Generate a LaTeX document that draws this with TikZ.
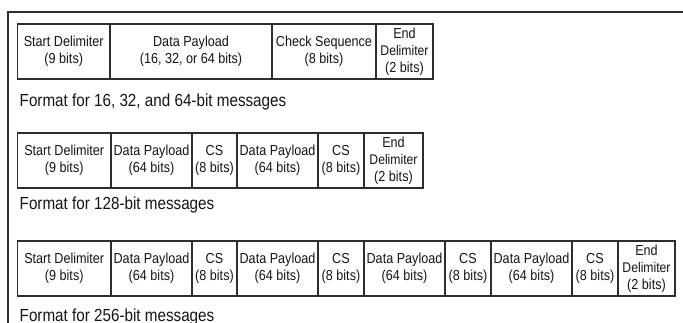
\documentclass[tikz,border=0pt]{standalone}
\usepackage{fontspec}
\setmainfont[FakeStretch=0.87]{Liberation Sans}
\usepackage{xcolor}
\usetikzlibrary{positioning}
\definecolor{framegray}{HTML}{2E2E2E}
\definecolor{textgray}{HTML}{151515}
\tikzset{
    field/.style={draw=framegray, line width=1.6pt, outer sep=0pt, inner sep=0pt, minimum height=55, align=center, text=textgray, font=\fontsize{14.5}{17}\selectfont},
    caption/.style={anchor=base west, inner sep=0pt, text=textgray, font=\fontsize{17.5}{20}\selectfont},
    frameline/.style={draw=framegray, line width=1.8pt}
}
\newcommand{\field}[4]{
    \node[field, minimum width=#3, right=0pt of #2] (#1) {#4};
}
\newcommand{\stopdelim}{End\\{\fontsize{14}{17}\selectfont Delimiter}\\(2 bits)}

\begin{document}
\begin{tikzpicture}[x=1pt, y=-1pt]
                    \useasboundingbox (0, 0) rectangle (683, 322);
                    \coordinate (frame-r) at (690, 12);
                    \coordinate (frame-c) at (8, 12);
                    \coordinate (frame-b) at (8, 330);
                    \draw[frameline] (frame-r) -- (frame-c) -- (frame-b);
                    % 16, 32 and 64-bit
                    \node[field, minimum width=92.5, anchor=north west] (a-sd) at (17.5, 24) {Start Delimiter\\(9 bits)};
                    \field{a-dp}{a-sd}{162}{Data Payload\\(16, 32, or 64 bits)}
                    \field{a-cs}{a-dp}{104}{Check Sequence\\(8 bits)}
                    \field{a-ed}{a-cs}{57}{\stopdelim}
                    \node[caption] (a-cap) at (19.5, 106) {Format for 16, 32, and 64-bit messages};
                    % 128-bit
                    \node[field, minimum width=93.5, anchor=north west] (b-sd) at (17.5, 133) {Start Delimiter\\(9 bits)};
                    \field{b-dp1}{b-sd}{81}{Data Payload\\(64 bits)}
                    \field{b-cs1}{b-dp1}{45}{CS\\(8 bits)}
                    \field{b-dp2}{b-cs1}{81}{Data Payload\\(64 bits)}
                    \field{b-cs2}{b-dp2}{46}{CS\\(8 bits)}
                    \field{b-ed}{b-cs2}{59}{\stopdelim}
                    \node[caption] (b-cap) at (19.5, 209.5) {Format for 128-bit messages};
                    % 256-bit
                    \node[field, minimum width=93.5, anchor=north west] (c-sd) at (17.5, 241) {Start Delimiter\\(9 bits)};
                    \field{c-dp1}{c-sd}{81}{Data Payload\\(64 bits)}
                    \field{c-cs1}{c-dp1}{45}{CS\\(8 bits)}
                    \field{c-dp2}{c-cs1}{81}{Data Payload\\(64 bits)}
                    \field{c-cs2}{c-dp2}{46}{CS\\(8 bits)}
                    \field{c-dp3}{c-cs2}{81}{Data Payload\\(64 bits)}
                    \field{c-cs3}{c-dp3}{46}{CS\\(8 bits)}
                    \field{c-dp4}{c-cs3}{81}{Data Payload\\(64 bits)}
                    \field{c-cs4}{c-dp4}{46}{CS\\(8 bits)}
                    \field{c-ed}{c-cs4}{57}{\stopdelim}
                    \node[caption] (c-cap) at (19.5, 321) {Format for 256-bit messages};
                \end{tikzpicture}
\end{document}
